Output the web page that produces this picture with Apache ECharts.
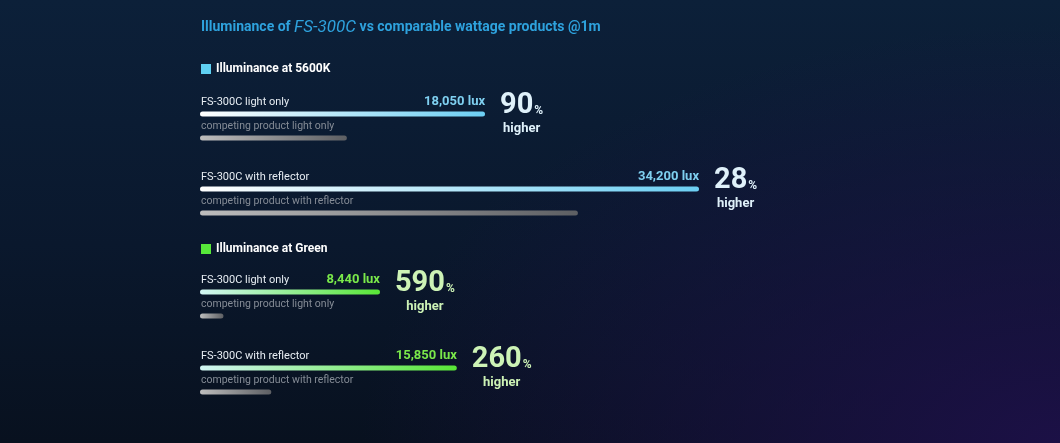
<!DOCTYPE html>
<html>
<head>
<meta charset="utf-8">
<script src="https://cdn.jsdelivr.net/npm/echarts@6/dist/echarts.min.js"></script>
<style>
  html, body { margin: 0; padding: 0; }
  #chart {
    width: 1060px; height: 443px;
    background:
      radial-gradient(ellipse 700px 420px at 1060px 443px, rgba(30,16,74,0.9), rgba(30,16,74,0) 100%),
      linear-gradient(180deg, #0c2039 0%, #0a182d 55%, #08111f 100%);
  }
</style>
</head>
<body>
<div id="chart"></div>
<script>
// pairs: 5600K light only, 5600K reflector, green light only, green reflector
var groupNames = ['Illuminance at 5600K', 'Illuminance at 5600K', 'Illuminance at Green', 'Illuminance at Green'];
var fsLabels = ['FS-300C light only', 'FS-300C with reflector', 'FS-300C light only', 'FS-300C with reflector'];
var rivalLabels = ['competing product light only', 'competing product with reflector', 'competing product light only', 'competing product with reflector'];
var fsValues = [18050, 34200, 8440, 15850];
var rivalValues = [9300, 25900, 1100, 4400];
var increase = [90, 28, 590, 260];

// each pair has its own scale in the original artwork
var axisMax = [31600, 34200, 23400, 30800];
var gridTops = [102, 177, 280, 356];

var FONT = 'Roboto, "Noto Sans", sans-serif';
var colorsBy = {
    'Illuminance at 5600K': { start: '#ffffff', end: '#6ccff3', text: '#7fd0f0', big: '#dff1fa', icon: '#5fd0f2' },
    'Illuminance at Green': { start: '#d2f6f4', end: '#58e636', text: '#7ae94a', big: '#cdf3b6', icon: '#57e83a' }
};

var chart = echarts.init(document.getElementById('chart'), null, { renderer: 'canvas' });

var grids = [], xAxes = [], yAxes = [], series = [];

for (var i = 0; i < fsValues.length; i++) {
    var c = colorsBy[groupNames[i]];
    grids.push({ left: 200, width: 499, top: gridTops[i], height: 48 });
    xAxes.push({ gridIndex: i, type: 'value', min: 0, max: axisMax[i], show: false });
    yAxes.push({
        gridIndex: i,
        type: 'category',
        inverse: true,
        data: [fsLabels[i], rivalLabels[i]],
        axisLine: { show: false },
        axisTick: { show: false },
        axisLabel: {
            inside: true,
            margin: 1,
            verticalAlign: 'bottom',
            padding: [0, 0, 6, 0],
            formatter: function (v, idx) {
                return idx === 0 ? '{fs|' + v + '}' : '{rv|' + v + '}';
            },
            rich: {
                fs: { color: '#e6ecf2', fontSize: 11, fontFamily: FONT },
                rv: { color: '#858c96', fontSize: 10.5, fontFamily: FONT }
            }
        }
    });
    series.push({
        name: groupNames[i],
        type: 'bar',
        xAxisIndex: i,
        yAxisIndex: i,
        barWidth: 5,
        barGap: '-100%',
        itemStyle: { color: c.icon },
        data: [
            {
                value: fsValues[i],
                itemStyle: {
                    borderRadius: 3,
                    color: new echarts.graphic.LinearGradient(0, 0, 1, 0, [
                        { offset: 0, color: c.start },
                        { offset: 1, color: c.end }
                    ])
                },
                label: {
                    show: true,
                    position: ['100%', 0],
                    align: 'right',
                    verticalAlign: 'bottom',
                    offset: [0, -3],
                    color: c.text,
                    fontSize: 13,
                    fontWeight: 'bold',
                    fontFamily: FONT,
                    formatter: function (p) {
                        return p.value.toLocaleString('en-US') + ' lux';
                    }
                }
            },
            {
                value: rivalValues[i],
                itemStyle: {
                    borderRadius: 3,
                    color: new echarts.graphic.LinearGradient(0, 0, 1, 0, [
                        { offset: 0, color: '#bdbdbd' },
                        { offset: 1, color: '#5d5f63' }
                    ])
                }
            }
        ]
    });
    // invisible twin of the FS bar, only carries the "% higher" text
    series.push({
        name: groupNames[i],
        type: 'bar',
        xAxisIndex: i,
        yAxisIndex: i,
        barWidth: 5,
        barGap: '-100%',
        silent: true,
        itemStyle: { color: 'rgba(0,0,0,0)' },
        label: {
            show: true,
            position: 'right',
            distance: 15,
            formatter: '{big|' + increase[i] + '}{pct|%}\n{hi|higher}',
            rich: {
                big: { fontSize: 29, fontWeight: 'bold', color: c.big, fontFamily: FONT, lineHeight: 30, align: 'center' },
                pct: { fontSize: 12, fontWeight: 'bold', color: c.big, fontFamily: FONT, verticalAlign: 'bottom', padding: [0, 0, 4, 1], align: 'center' },
                hi: { fontSize: 13, fontWeight: 'bold', color: c.big, fontFamily: FONT, lineHeight: 16, align: 'center' }
            }
        },
        data: [fsValues[i], '-']
    });
}

var option = {
    backgroundColor: 'transparent',
    animation: false,
    title: {
        left: 196,
        top: 14,
        text: '{a|Illuminance of }{b|FS-300C}{a| vs comparable wattage products @1m}',
        textStyle: {
            rich: {
                a: { fontSize: 14, fontWeight: 'bold', color: '#2ea2dd', fontFamily: FONT },
                b: { fontSize: 17, fontStyle: 'italic', fontWeight: 'normal', color: '#2ea2dd', fontFamily: FONT }
            }
        }
    },
    legend: [
        {
            left: 196, top: 58, icon: 'rect', itemWidth: 10, itemHeight: 10, itemGap: 5,
            selectedMode: false,
            textStyle: { color: '#ffffff', fontSize: 12, fontWeight: 'bold', fontFamily: FONT },
            data: [{ name: 'Illuminance at 5600K', itemStyle: { color: colorsBy['Illuminance at 5600K'].icon } }]
        },
        {
            left: 196, top: 238, icon: 'rect', itemWidth: 10, itemHeight: 10, itemGap: 5,
            selectedMode: false,
            textStyle: { color: '#ffffff', fontSize: 12, fontWeight: 'bold', fontFamily: FONT },
            data: [{ name: 'Illuminance at Green', itemStyle: { color: colorsBy['Illuminance at Green'].icon } }]
        }
    ],
    grid: grids,
    xAxis: xAxes,
    yAxis: yAxes,
    series: series
};

chart.setOption(option);
</script>
</body>
</html>
